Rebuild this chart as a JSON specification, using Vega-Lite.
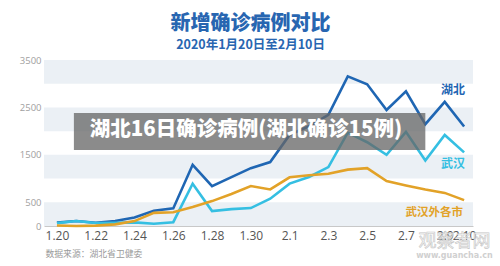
{
  "$schema": "https://vega.github.io/schema/vega-lite/v6.json",
  "width": 429,
  "height": 166,
  "autosize": {"type": "none"},
  "padding": {"left": 44, "top": 60, "right": 27, "bottom": 40},
  "background": "white",
  "config": {"view": {"stroke": null}, "font": "Noto Sans CJK SC"},
  "title": {
    "text": "新增确诊病例对比",
    "subtitle": "2020年1月20日至2月10日",
    "anchor": "middle",
    "dx": -8,
    "offset": 4,
    "font": "Noto Sans CJK SC",
    "fontSize": 20,
    "fontWeight": 900,
    "color": "#2866b1",
    "subtitleFont": "Noto Sans CJK SC",
    "subtitleFontSize": 12.5,
    "subtitleFontWeight": "bold",
    "subtitleColor": "#2866b1",
    "subtitlePadding": 5
  },
  "datasets": {
    "cases": [
      {"date": "2020-01-20", "湖北": 72, "武汉": 60, "武汉外各市": 12},
      {"date": "2020-01-21", "湖北": 105, "武汉": 105, "武汉外各市": 0},
      {"date": "2020-01-22", "湖北": 69, "武汉": 62, "武汉外各市": 7},
      {"date": "2020-01-23", "湖北": 105, "武汉": 70, "武汉外各市": 35},
      {"date": "2020-01-24", "湖北": 180, "武汉": 77, "武汉外各市": 103},
      {"date": "2020-01-25", "湖北": 323, "武汉": 46, "武汉外各市": 277},
      {"date": "2020-01-26", "湖北": 371, "武汉": 80, "武汉外各市": 291},
      {"date": "2020-01-27", "湖北": 1291, "武汉": 892, "武汉外各市": 399},
      {"date": "2020-01-28", "湖北": 840, "武汉": 315, "武汉外各市": 525},
      {"date": "2020-01-29", "湖北": 1032, "武汉": 356, "武汉外各市": 676},
      {"date": "2020-01-30", "湖北": 1220, "武汉": 378, "武汉外各市": 842},
      {"date": "2020-01-31", "湖北": 1347, "武汉": 576, "武汉外各市": 771},
      {"date": "2020-02-01", "湖北": 1921, "武汉": 894, "武汉外各市": 1027},
      {"date": "2020-02-02", "湖北": 2103, "武汉": 1033, "武汉外各市": 1070},
      {"date": "2020-02-03", "湖北": 2345, "武汉": 1242, "武汉外各市": 1103},
      {"date": "2020-02-04", "湖北": 3156, "武汉": 1967, "武汉外各市": 1189},
      {"date": "2020-02-05", "湖北": 2987, "武汉": 1766, "武汉外各市": 1221},
      {"date": "2020-02-06", "湖北": 2447, "武汉": 1501, "武汉外各市": 946},
      {"date": "2020-02-07", "湖北": 2841, "武汉": 1985, "武汉外各市": 856},
      {"date": "2020-02-08", "湖北": 2147, "武汉": 1379, "武汉外各市": 768},
      {"date": "2020-02-09", "湖北": 2618, "武汉": 1920, "武汉外各市": 698},
      {"date": "2020-02-10", "湖北": 2097, "武汉": 1552, "武汉外各市": 545}
    ]
  },
  "data": {"name": "cases"},
  "encoding": {
    "x": {
      "field": "date",
      "type": "temporal",
      "scale": {
        "type": "utc",
        "domain": [
          {"year": 2020, "month": 1, "date": 19, "hours": 8, "utc": true},
          {"year": 2020, "month": 2, "date": 10, "hours": 11, "utc": true}
        ]
      },
      "axis": {
        "title": "数据来源：湖北省卫健委",
        "titleFont": "Noto Sans CJK SC",
        "titleFontSize": 8.8,
        "titleFontWeight": "normal",
        "titleColor": "#9a9a9a",
        "titleAnchor": "start",
        "titleAlign": "left",
        "titleBaseline": "middle",
        "titleX": 1,
        "titleY": 27,
        "values": [
          {"year": 2020, "month": 1, "date": 20, "utc": true},
          {"year": 2020, "month": 1, "date": 22, "utc": true},
          {"year": 2020, "month": 1, "date": 24, "utc": true},
          {"year": 2020, "month": 1, "date": 26, "utc": true},
          {"year": 2020, "month": 1, "date": 28, "utc": true},
          {"year": 2020, "month": 1, "date": 30, "utc": true},
          {"year": 2020, "month": 2, "date": 1, "utc": true},
          {"year": 2020, "month": 2, "date": 3, "utc": true},
          {"year": 2020, "month": 2, "date": 5, "utc": true},
          {"year": 2020, "month": 2, "date": 7, "utc": true},
          {"year": 2020, "month": 2, "date": 9, "utc": true},
          {"year": 2020, "month": 2, "date": 10, "utc": true}
        ],
        "format": "%-m.%-d",
        "formatType": "utc",
        "labelExpr": "utcFormat(datum.value, '%-m.%-d')",
        "labelFont": "Open Sans",
        "labelFontSize": 12,
        "labelColor": "#555555",
        "labelPadding": 4,
        "labelOverlap": false,
        "labelFlush": false,
        "ticks": false,
        "grid": false,
        "domainColor": "#c8c8c8",
        "domainWidth": 1
      }
    }
  },
  "layer": [
    {
      "data": {"values": [
        {"lo": 0, "hi": 500},
        {"lo": 1000, "hi": 1500},
        {"lo": 2000, "hi": 2500},
        {"lo": 3000, "hi": 3500}
      ]},
      "mark": {"type": "rect", "color": "#ebf0f5"},
      "encoding": {
        "x": {"value": 0},
        "x2": {"value": "width"},
        "y": {
          "field": "lo",
          "type": "quantitative",
          "scale": {"domain": [0, 3500], "nice": false},
          "axis": {
            "title": null,
            "values": [0, 500, 1500, 2500, 3500],
            "format": "d",
            "grid": false,
            "domain": false,
            "ticks": false,
            "labelFont": "Open Sans",
            "labelFontSize": 9.5,
            "labelColor": "#a0a0a0",
            "labelPadding": 3
          }
        },
        "y2": {"field": "hi"}
      }
    },
    {
      "transform": [{"fold": ["湖北", "武汉", "武汉外各市"], "as": ["series", "value"]}],
      "mark": {"type": "line", "strokeWidth": 2.6, "strokeJoin": "miter"},
      "encoding": {
        "y": {"field": "value", "type": "quantitative"},
        "color": {
          "field": "series",
          "type": "nominal",
          "scale": {"domain": ["武汉外各市", "武汉", "湖北"], "range": ["#e2a228", "#35bfe2", "#1f66b3"]},
          "legend": null
        }
      }
    },
    {
      "transform": [{"filter": "datum['湖北'] === 3156"}],
      "mark": {"type": "rect", "color": "#666666", "opacity": 0.76},
      "encoding": {
        "x": {"datum": {"year": 2020, "month": 1, "date": 20, "hours": 21, "utc": true}, "type": "temporal"},
        "x2": {"datum": {"year": 2020, "month": 2, "date": 8, "utc": true}},
        "y": {"datum": 2383, "type": "quantitative"},
        "y2": {"datum": 1602}
      }
    },
    {
      "transform": [{"filter": "datum['湖北'] === 3156"}],
      "mark": {"type": "text", "text": "湖北16日确诊病例(湖北确诊15例)", "color": "white", "font": "Noto Sans CJK SC", "fontSize": 20.5, "fontWeight": 900, "align": "center", "baseline": "middle"},
      "encoding": {
        "x": {"datum": {"year": 2020, "month": 1, "date": 29, "hours": 18, "utc": true}, "type": "temporal"},
        "y": {"datum": 2030, "type": "quantitative"}
      }
    },
    {
      "transform": [{"fold": ["湖北"], "as": ["series", "value"]}],
      "mark": {"type": "text", "align": "right", "baseline": "middle", "dx": 1, "dy": -37, "fontSize": 12, "fontWeight": "bold", "font": "Noto Sans CJK SC"},
      "encoding": {
        "x": {"aggregate": "max", "field": "date", "type": "temporal"},
        "y": {"aggregate": {"argmax": "date"}, "field": "value", "type": "quantitative"},
        "text": {"field": "series"},
        "color": {"field": "series", "type": "nominal", "legend": null}
      }
    },
    {
      "transform": [{"fold": ["武汉"], "as": ["series", "value"]}],
      "mark": {"type": "text", "align": "right", "baseline": "middle", "dx": 1, "dy": 12, "fontSize": 12, "fontWeight": "bold", "font": "Noto Sans CJK SC"},
      "encoding": {
        "x": {"aggregate": "max", "field": "date", "type": "temporal"},
        "y": {"aggregate": {"argmax": "date"}, "field": "value", "type": "quantitative"},
        "text": {"field": "series"},
        "color": {"field": "series", "type": "nominal", "legend": null}
      }
    },
    {
      "transform": [{"fold": ["武汉外各市"], "as": ["series", "value"]}],
      "mark": {"type": "text", "align": "right", "baseline": "middle", "dx": -1, "dy": 13, "fontSize": 11.5, "fontWeight": "bold", "font": "Noto Sans CJK SC"},
      "encoding": {
        "x": {"aggregate": "max", "field": "date", "type": "temporal"},
        "y": {"aggregate": {"argmax": "date"}, "field": "value", "type": "quantitative"},
        "text": {"field": "series"},
        "color": {"field": "series", "type": "nominal", "legend": null}
      }
    },
    {
      "transform": [{"filter": "datum['湖北'] === 3156"}],
      "mark": {"type": "text", "text": "观察者网", "font": "Noto Sans CJK SC", "fontSize": 18, "fill": "#f6f6f6", "stroke": "#bdbdbd", "strokeWidth": 0.6, "align": "center", "baseline": "middle", "opacity": 0.85},
      "encoding": {
        "x": {"datum": {"year": 2020, "month": 2, "date": 9, "hours": 12, "utc": true}, "type": "temporal"},
        "y": {"datum": -340, "type": "quantitative"}
      }
    },
    {
      "transform": [{"filter": "datum['湖北'] === 3156"}],
      "mark": {"type": "text", "text": "www.guancha.cn", "font": "DejaVu Sans", "fontSize": 8, "fontWeight": "bold", "fill": "#d0d0d0", "align": "center", "baseline": "middle"},
      "encoding": {
        "x": {"datum": {"year": 2020, "month": 2, "date": 9, "hours": 12, "utc": true}, "type": "temporal"},
        "y": {"datum": -630, "type": "quantitative"}
      }
    }
  ]
}
